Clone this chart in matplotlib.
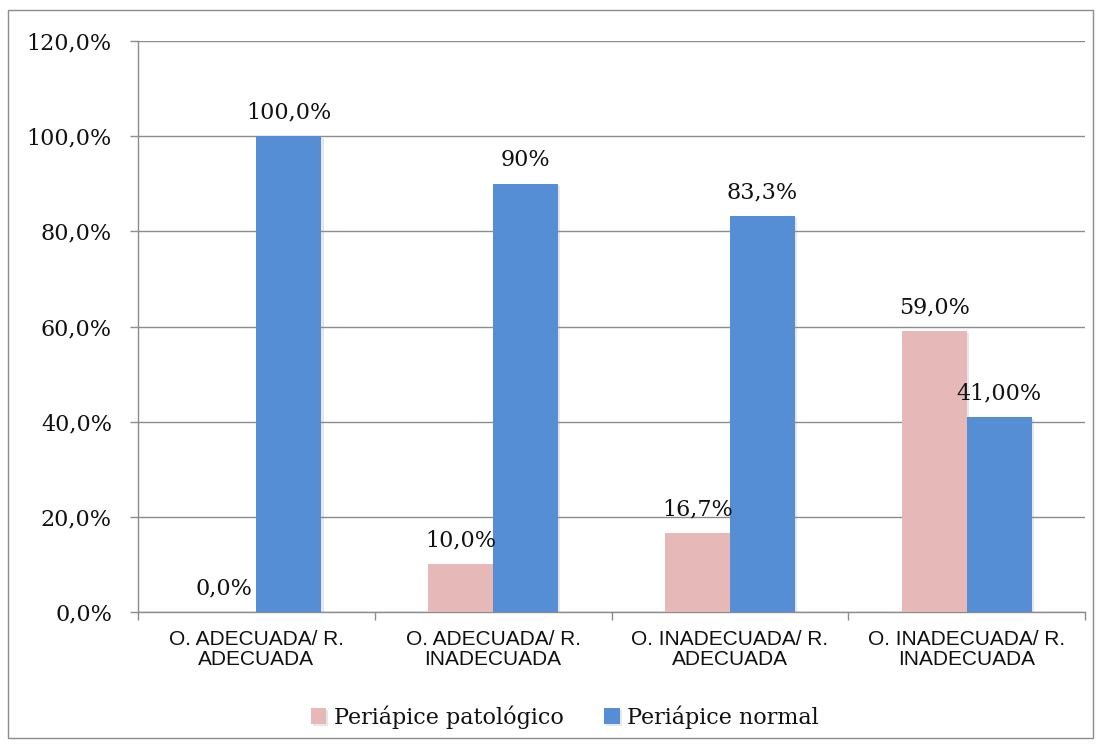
import matplotlib
matplotlib.use("Agg")
import matplotlib.pyplot as plt
import matplotlib.patheffects as pe
from matplotlib.patches import Rectangle
import numpy as np

categories = ["O. ADECUADA/ R.\nADECUADA", "O. ADECUADA/ R.\nINADECUADA",
              "O. INADECUADA/ R.\nADECUADA", "O. INADECUADA/ R.\nINADECUADA"]
patologico = [0.0, 10.0, 16.7, 59.0]
normal = [100.0, 90.0, 83.3, 41.0]
labels_patologico = ["0,0%", "10,0%", "16,7%", "59,0%"]
labels_normal = ["100,0%", "90%", "83,3%", "41,00%"]
series_names = ["Periápice patológico", "Periápice normal"]
yticks = [0, 20, 40, 60, 80, 100, 120]
ytick_labels = ["0,0%", "20,0%", "40,0%", "60,0%", "80,0%", "100,0%", "120,0%"]

pink = "#E6B9B8"
blue = "#558ED5"
grid_c = "#8C8C8C"
serif = ["DejaVu Serif"]
sans = ["Liberation Sans", "DejaVu Sans"]

fig = plt.figure(figsize=(11.02, 7.49), dpi=100)
fig.patches.append(Rectangle((8 / 1102, 1 - 738 / 749), (1093 - 8) / 1102, (738 - 10) / 749,
                             transform=fig.transFigure, fill=False, edgecolor=grid_c, lw=1.0))

ax = fig.add_axes([138 / 1102, 1 - 612 / 749, (1085 - 138) / 1102, (612 - 41) / 749])
x = np.arange(len(categories))
w = 0.275
shadow = [pe.SimplePatchShadow(offset=(1.5, -1.5), shadow_rgbFace="#888888", alpha=0.2), pe.Normal()]
b1 = ax.bar(x - w / 2, patologico, w, color=pink, label=series_names[0], zorder=3)
b2 = ax.bar(x + w / 2, normal, w, color=blue, label=series_names[1], zorder=3)
for b in list(b1) + list(b2):
    b.set_path_effects(shadow)

for bars, labs in ((b1, labels_patologico), (b2, labels_normal)):
    for bar, lab in zip(bars, labs):
        ax.annotate(lab, (bar.get_x() + bar.get_width() / 2, bar.get_height()),
                    xytext=(0, 9), textcoords="offset points", ha="center", va="bottom",
                    fontsize=16, family=serif, color="#111111", zorder=5)

ax.set_xlim(-0.5, len(categories) - 0.5)
ax.set_ylim(0, 120)
ax.set_yticks(yticks)
ax.set_yticklabels(ytick_labels, family=serif, fontsize=16, color="#111111")
ax.yaxis.grid(True, color=grid_c, lw=1.0, zorder=0)
ax.set_axisbelow(True)

ax.set_xticks(x)
ax.set_xticklabels(categories, family=sans, fontsize=15, color="#111111", linespacing=1.05)
ax.set_xticks(np.arange(-0.5, len(categories)), minor=True)
ax.tick_params(axis="x", which="major", length=0, pad=13)
ax.tick_params(axis="x", which="minor", length=5.5, color=grid_c, width=1)
ax.tick_params(axis="y", length=5.8, color=grid_c, width=1, pad=13)

for s in ("top", "right"):
    ax.spines[s].set_visible(False)
for s in ("left", "bottom"):
    ax.spines[s].set_color(grid_c)
    ax.spines[s].set_linewidth(1.0)

leg = fig.legend(handles=[b1, b2], labels=series_names, loc="center",
                 bbox_to_anchor=(565 / 1102, 1 - 717 / 749), ncol=2, frameon=False,
                 prop={"family": serif, "size": 16}, handlelength=0.7, handleheight=0.7,
                 handletextpad=0.35, columnspacing=1.8)
for t in leg.get_texts():
    t.set_color("#111111")

fig.savefig("out.png", dpi=100, facecolor="white")
